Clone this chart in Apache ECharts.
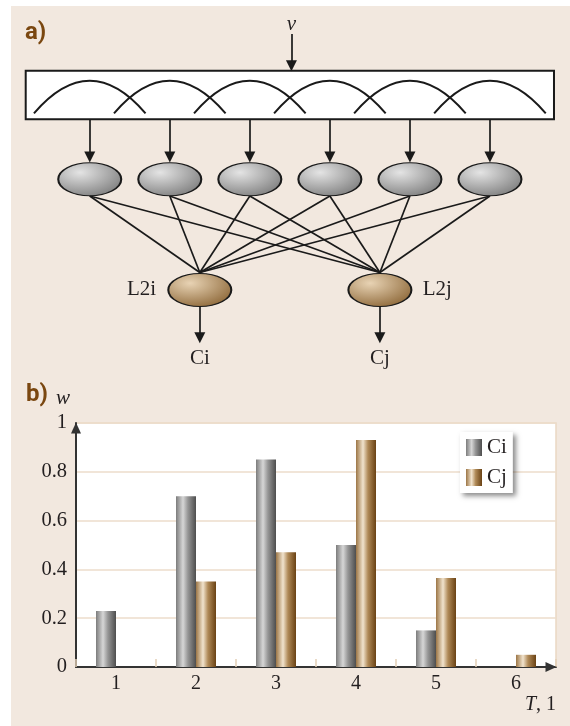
<!DOCTYPE html>
<html><head><meta charset="utf-8">
<script src="https://cdn.jsdelivr.net/npm/echarts@6/dist/echarts.min.js"></script>
<style>
html,body{margin:0;padding:0;background:#fff;}
#c{width:570px;height:726px;background:linear-gradient(#f2e8df,#f2e8df) 11px 6px/559px 720px no-repeat,#fff;}
</style></head><body><div id="c"></div>
<script>
// ---------- panel b) data ----------
const categories = ['1', '2', '3', '4', '5', '6'];
const ciValues = [0.23, 0.70, 0.85, 0.50, 0.15, null];
const cjValues = [null, 0.35, 0.47, 0.93, 0.365, 0.05];
const seriesNames = ['Ci', 'Cj'];

// ---------- panel a) schematic (node-index units across, row units down) ----------
const inputNodeX = [1, 2, 3, 4, 5, 6];
const outputNodeX = [2.375, 4.625];
const outputNodeNames = ['L2i', 'L2j'];
const outputLabels = ['Ci', 'Cj'];
const inputLabel = 'v';

const L = { // layout rows
  vLabel: 1.2, vTop: 1.7, vEnd: 3.285,
  boxL: 0.2, boxR: 6.8, boxTop: 3.535, boxBot: 5.965,
  arcBase: 5.665, arcCtrl: 2.405, arcHalf: 0.697,
  inArrowEnd: 7.85, inY: 8.965, inBot: 9.8,
  outTop: 13.625, outY: 14.5, outBot: 15.335, outArrowEnd: 16.885, outLabel: 17.93
};

const SERIF = '"Liberation Serif","DejaVu Serif",serif';
const BOLD = 'bold 24px "Liberation Sans Narrow","Roboto","Liberation Sans",sans-serif';
const INK = '#1a1a1a';

const grayFill = {type:'radial', x:0.35, y:0.3, r:0.8, colorStops:[{offset:0,color:'#e4e4e4'},{offset:1,color:'#7a7a7a'}]};
const brownFill = {type:'radial', x:0.35, y:0.3, r:0.8, colorStops:[{offset:0,color:'#e8d3b4'},{offset:1,color:'#8a6434'}]};
const ciGrad = {type:'linear', x:0, y:0, x2:1, y2:0, colorStops:[
  {offset:0,color:'#7c7c7c'},{offset:0.35,color:'#d6d6d6'},{offset:0.6,color:'#959595'},{offset:1,color:'#4e4e4e'}]};
const cjGrad = {type:'linear', x:0, y:0, x2:1, y2:0, colorStops:[
  {offset:0,color:'#9c7646'},{offset:0.35,color:'#f1e3cd'},{offset:0.6,color:'#b08a58'},{offset:1,color:'#6a4214'}]};

// build schematic pieces
const arrowLines = [];
arrowLines.push({coords: [[3.52, L.vTop], [3.52, L.vEnd]]});
inputNodeX.forEach(x => arrowLines.push({coords: [[x, L.boxBot], [x, L.inArrowEnd]]}));
outputNodeX.forEach(x => arrowLines.push({coords: [[x, L.outBot], [x, L.outArrowEnd]]}));
const edges = [];
inputNodeX.forEach(xi => outputNodeX.forEach(xo => edges.push({coords: [[xi, L.inBot], [xo, L.outTop]]})));

const texts = [
  {x: 3.52, y: L.vLabel, t: inputLabel, align: 'center', italic: true, size: 21},
  {x: outputNodeX[0] - 0.545, y: 14.47, t: outputNodeNames[0], align: 'right', size: 21},
  {x: outputNodeX[1] + 0.535, y: 14.47, t: outputNodeNames[1], align: 'left', size: 21},
  {x: outputNodeX[0], y: L.outLabel, t: outputLabels[0], align: 'center', size: 21},
  {x: outputNodeX[1], y: L.outLabel, t: outputLabels[1], align: 'center', size: 21}
];

const chart = echarts.init(document.getElementById('c'), null, {renderer: 'canvas'});
chart.setOption({
  animation: false,
  backgroundColor: 'transparent',
  graphic: [
    {type:'text', left: 25, top: 21, style:{text:'a)', font: BOLD, fill:'#7a4710'}},
    {type:'text', left: 26, top: 383, style:{text:'b)', font: BOLD, fill:'#7a4710'}}
  ],
  legend: {
    data: seriesNames, orient: 'vertical', left: 460, top: 432,
    backgroundColor: '#fff', shadowBlur: 5, shadowColor: 'rgba(0,0,0,0.45)', shadowOffsetX: 3, shadowOffsetY: 3,
    padding: [5, 6, 5, 6], itemWidth: 16, itemHeight: 17, itemGap: 9, icon: 'rect', selectedMode: false,
    textStyle: {fontFamily: SERIF, fontSize: 21, color: '#231f20'}
  },
  grid: [
    {left: 76, top: 423, width: 480, height: 244, show: true, backgroundColor: '#fff', borderColor: '#ead8c4', borderWidth: 1.5},
    {left: 9.7, top: 0, width: 562.1, height: 726, show: false}
  ],
  xAxis: [
    {gridIndex: 0, type: 'category', data: categories,
     axisLine: {show: true, lineStyle: {color: '#333', width: 2}, symbol: ['none', 'triangle'], symbolSize: [10, 11], symbolOffset: [0, -5]},
     axisTick: {show: true, inside: true, length: 8, lineStyle: {color: '#e4cfb6', width: 1.5}},
     axisLabel: {fontFamily: SERIF, fontSize: 20, color: '#231f20', margin: 7},
     name: '{i|T}, 1', nameLocation: 'end', nameGap: 0,
     nameTextStyle: {fontFamily: SERIF, fontSize: 20, color: '#231f20', align: 'right', verticalAlign: 'top', padding: [28, 0, 0, 0],
       rich: {i: {fontFamily: SERIF, fontSize: 20, fontStyle: 'italic', color: '#231f20'}}}
    },
    {gridIndex: 1, type: 'value', min: 0, max: 7, show: false}
  ],
  yAxis: [
    {gridIndex: 0, type: 'value', min: 0, max: 1, interval: 0.2,
     axisLine: {show: true, lineStyle: {color: '#333', width: 2}, symbol: ['none', 'triangle'], symbolSize: [10, 11], symbolOffset: [0, -5]},
     axisTick: {show: false},
     splitLine: {lineStyle: {color: '#ecdccb', width: 1.5}},
     axisLabel: {fontFamily: SERIF, fontSize: 20.5, color: '#231f20', margin: 9},
     name: 'w', nameLocation: 'end', nameGap: 14,
     nameTextStyle: {fontFamily: SERIF, fontSize: 21, fontStyle: 'italic', color: '#231f20', align: 'right', padding: [0, 6, 0, 0]}
    },
    {gridIndex: 1, type: 'value', min: 0, max: 36.3, inverse: true, show: false}
  ],
  series: [
    {name: 'Ci', type: 'bar', xAxisIndex: 0, yAxisIndex: 0, data: ciValues, barWidth: 20, barGap: '0%', itemStyle: {color: ciGrad}},
    {name: 'Cj', type: 'bar', xAxisIndex: 0, yAxisIndex: 0, data: cjValues, barWidth: 20, barGap: '0%', itemStyle: {color: cjGrad}},
    // schematic: input box
    {type: 'custom', xAxisIndex: 1, yAxisIndex: 1, z: 1, silent: true, data: [[L.boxL, L.boxTop, L.boxR, L.boxBot]],
     renderItem: function (params, api) {
       const p1 = api.coord([api.value(0), api.value(1)]);
       const p2 = api.coord([api.value(2), api.value(3)]);
       return {type: 'rect', shape: {x: p1[0], y: p1[1], width: p2[0] - p1[0], height: p2[1] - p1[1]},
               style: {fill: '#fff', stroke: INK, lineWidth: 2}};
     }},
    // schematic: receptive-field arcs
    {type: 'custom', xAxisIndex: 1, yAxisIndex: 1, z: 2, silent: true, data: inputNodeX.map(x => [x]),
     renderItem: function (params, api) {
       const c = api.value(0);
       const a = api.coord([c - L.arcHalf, L.arcBase]);
       const b = api.coord([c + L.arcHalf, L.arcBase]);
       const k = api.coord([c, L.arcCtrl]);
       return {type: 'bezierCurve', shape: {x1: a[0], y1: a[1], x2: b[0], y2: b[1], cpx1: k[0], cpy1: k[1]},
               style: {fill: null, stroke: INK, lineWidth: 2}};
     }},
    // schematic: connection edges
    {type: 'lines', coordinateSystem: 'cartesian2d', xAxisIndex: 1, yAxisIndex: 1, z: 2, silent: true,
     data: edges, symbol: 'none', lineStyle: {color: INK, width: 1.7, opacity: 1}},
    // schematic: arrows
    {type: 'lines', coordinateSystem: 'cartesian2d', xAxisIndex: 1, yAxisIndex: 1, z: 2, silent: true,
     data: arrowLines, symbol: ['none', 'triangle'], symbolSize: 11, lineStyle: {color: INK, width: 1.7, opacity: 1}},
    // schematic: input nodes
    {type: 'scatter', xAxisIndex: 1, yAxisIndex: 1, z: 4, silent: true, symbol: 'circle', symbolSize: [63, 33],
     data: inputNodeX.map(x => [x, L.inY]), itemStyle: {color: grayFill, borderColor: INK, borderWidth: 1.5, opacity: 1}},
    // schematic: output nodes
    {type: 'scatter', xAxisIndex: 1, yAxisIndex: 1, z: 4, silent: true, symbol: 'circle', symbolSize: [63, 33],
     data: outputNodeX.map(x => [x, L.outY]), itemStyle: {color: brownFill, borderColor: INK, borderWidth: 1.5, opacity: 1}},
    // schematic: labels
    {type: 'custom', xAxisIndex: 1, yAxisIndex: 1, z: 5, silent: true, data: texts.map(t => [t.x, t.y]),
     renderItem: function (params, api) {
       const t = texts[params.dataIndex];
       const p = api.coord([api.value(0), api.value(1)]);
       return {type: 'text', x: p[0], y: p[1],
               style: {text: t.t, fill: '#231f20', align: t.align, verticalAlign: 'middle',
                       font: (t.italic ? 'italic ' : '') + t.size + 'px ' + SERIF}};
     }}
  ]
});
</script></body></html>
